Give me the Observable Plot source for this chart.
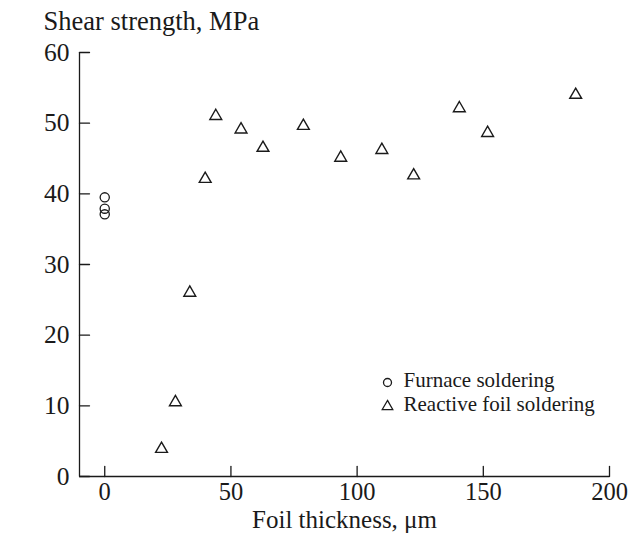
<!DOCTYPE html>
<html>
<head>
<meta charset="utf-8">
<script src="https://cdn.jsdelivr.net/npm/d3@7"></script>
<script src="https://cdn.jsdelivr.net/npm/@observablehq/plot@0.6"></script>
<style>
  html, body { margin: 0; padding: 0; background: #fff; }
  svg text { font-family: "Liberation Serif", "Times New Roman", serif !important; }
</style>
</head>
<body>
<div id="chart"></div>
<script>
// Data
const furnaceX = [0, 0, 0];
const furnaceY = [39.5, 37.9, 37.1];
const foilX = [22.5, 28.0, 33.7, 39.8, 44.0, 54.0, 62.7, 78.7, 93.5, 109.8, 122.4, 140.5, 151.7, 186.6];
const foilY = [3.9, 10.5, 26.0, 42.1, 51.0, 49.1, 46.5, 49.6, 45.1, 46.2, 42.6, 52.1, 48.6, 54.0];
const xTicks = [0, 50, 100, 150, 200];
const yTicks = [0, 10, 20, 30, 40, 50, 60];
const xDomain = [-10, 200];
const yDomain = [0, 60];
const xLabel = "Foil thickness, \u03BCm";
const yLabel = "Shear strength, MPa";
const seriesNames = ["Furnace soldering", "Reactive foil soldering"];
const seriesSymbols = ["circle", "triangle"];

const furnace = furnaceX.map((x, i) => ({x, y: furnaceY[i]}));
const foil = foilX.map((x, i) => ({x, y: foilY[i]}));
const legend = seriesNames.map((name, i) => ({name, symbol: seriesSymbols[i], i}));

const ink = "#1a1a1a";
const font = "Liberation Serif";
const tickShape = {draw(context, l) { context.moveTo(0, 0); context.lineTo(0, -l); }};

const chart = Plot.plot({
  width: 637,
  height: 540,
  marginTop: 52,
  marginRight: 28,
  marginBottom: 64,
  marginLeft: 79,
  style: "font-family: 'Liberation Serif', serif; font-size: 25px; background: #fff;",
  x: {domain: xDomain},
  y: {domain: yDomain},
  marks: [
    Plot.ruleX([xDomain[0]], {stroke: ink, strokeWidth: 1.3}),
    Plot.ruleY([yDomain[0]], {stroke: ink, strokeWidth: 1.3}),
    Plot.axisX({ticks: xTicks, tickSize: 0, tickPadding: 6, fontSize: 24.5, fontFamily: font, label: null, fill: ink}),
    Plot.axisY({ticks: yTicks, tickSize: 0, tickPadding: 10, fontSize: 25.5, fontFamily: font, label: null, fill: ink}),
    Plot.vector(xTicks, {x: d => d, frameAnchor: "bottom", length: 10, rotate: 0, anchor: "start", shape: tickShape, stroke: ink, strokeWidth: 1.3}),
    Plot.vector(yTicks, {y: d => d, frameAnchor: "left", length: 10, rotate: 90, anchor: "start", shape: tickShape, stroke: ink, strokeWidth: 1.3}),
    Plot.dot(furnace, {x: "x", y: "y", r: 4.6, symbol: "circle", stroke: ink, strokeWidth: 1.3, fill: "none"}),
    Plot.dot(foil, {x: "x", y: "y", r: 4.4, symbol: "triangle", stroke: ink, strokeWidth: 1.4, fill: "none"}),
    // axis titles
    Plot.text([yLabel], {text: d => d, frameAnchor: "top-left", dx: -36, dy: -31, textAnchor: "start", lineAnchor: "middle", fontSize: 26.5, fontFamily: font, fill: ink}),
    Plot.text([xLabel], {text: d => d, frameAnchor: "bottom", dy: 43, textAnchor: "middle", lineAnchor: "middle", fontSize: 25, fontFamily: font, fill: ink}),
    // legend
    Plot.dot(legend, {frameAnchor: "bottom-right", dx: -222, dy: -94, symbol: "symbol", r: 4, stroke: ink, strokeWidth: 1.3, fill: "none",
      filter: d => d.i === 0}),
    Plot.dot(legend, {frameAnchor: "bottom-right", dx: -222, dy: -70, symbol: "symbol", r: 3.9, stroke: ink, strokeWidth: 1.3, fill: "none",
      filter: d => d.i === 1}),
    Plot.text(legend, {text: "name", frameAnchor: "bottom-right", dx: -206, dy: -96, textAnchor: "start", lineAnchor: "middle", fontSize: 21, fontFamily: font, fill: ink,
      filter: d => d.i === 0}),
    Plot.text(legend, {text: "name", frameAnchor: "bottom-right", dx: -206, dy: -72.7, textAnchor: "start", lineAnchor: "middle", fontSize: 21, fontFamily: font, fill: ink,
      filter: d => d.i === 1})
  ]
});
document.getElementById("chart").appendChild(chart);
</script>
</body>
</html>
